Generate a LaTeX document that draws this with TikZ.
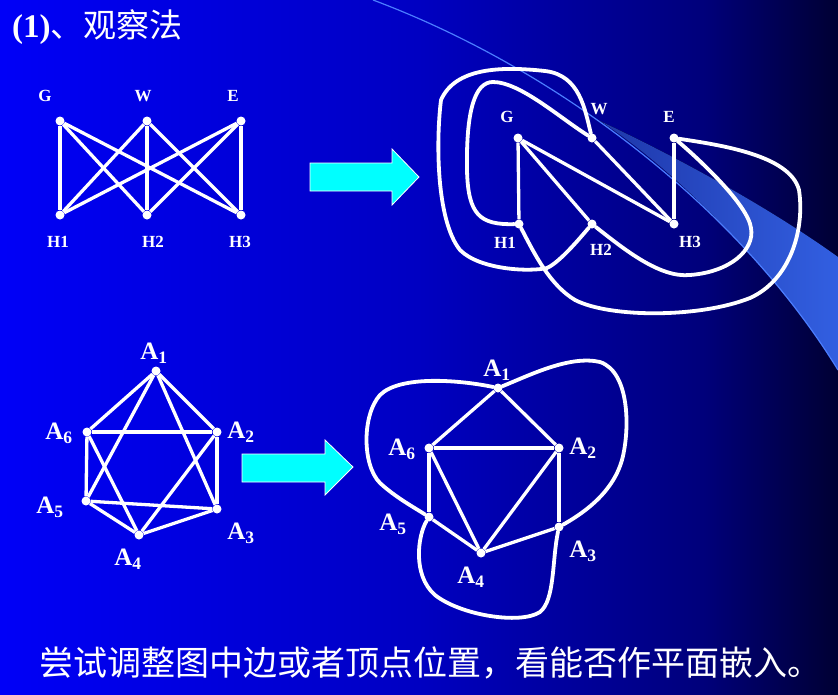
\documentclass[tikz,border=0pt]{standalone}
\usepackage{fontspec}
\setmainfont{Liberation Serif}
\newfontfamily\cjk{Noto Sans CJK SC}
\usepackage{tikz}
\usetikzlibrary{arrows.meta}
\definecolor{bandlight}{RGB}{50,95,225}
\definecolor{banddark}{RGB}{30,55,170}
\definecolor{bandline}{RGB}{75,125,255}
\definecolor{arrcyan}{RGB}{0,255,255}
\pgfdeclarehorizontalshading{slidebg}{100bp}{rgb(0bp)=(0,0,0.97); rgb(25bp)=(0,0,0.97); rgb(50bp)=(0,0,0.76); rgb(67bp)=(0,0,0.48); rgb(75bp)=(0,0,0.2); rgb(100bp)=(0,0,0.2)}

\begin{document}
\begin{tikzpicture}[x=1pt, y=-1pt,
  vtx/.style={circle, fill=white, inner sep=0pt, minimum size=9pt},
  lbl/.style={text=white, inner sep=0pt, font=\fontsize{17}{20}\selectfont\bfseries},
  alab/.style={text=white, inner sep=0pt, font=\fontsize{25}{28}\selectfont\bfseries},
  gedge/.style={white, line width=3.3pt},
  gloop/.style={white, line width=3.8pt, line cap=round},
  bigarr/.style={fill=arrcyan, draw=white, line width=0.8pt}
]
\useasboundingbox (0,0) rectangle (838,694);
\fill[shading=slidebg] (0,0) rectangle (838,694);
\fill[left color=banddark, right color=bandlight] (600,121) .. controls (690,163) and (780,215) .. (838,257)
  -- (838,370) .. controls (790,290) and (690,180) .. (600,121) -- cycle;
\draw[bandline, line width=1.2pt] (373,0) .. controls (560,70) and (740,210) .. (838,370);

\node[text=white, anchor=west, inner sep=0pt] (title) at (12,27)
  {\fontsize{33}{36}\selectfont\textbf{(1)}\cjk 、观察法};

% K3,3
\node[vtx] (g1) at (60,121) {};
\node[vtx] (w1) at (147,121) {};
\node[vtx] (e1) at (241,121) {};
\node[vtx] (ha1) at (60,215) {};
\node[vtx] (hb1) at (147,215) {};
\node[vtx] (hc1) at (241,215) {};
\node[lbl] at (45,96) {G};
\node[lbl] at (143,96) {W};
\node[lbl] at (233,96) {E};
\node[lbl] at (58,242) {H1};
\node[lbl] at (153,242) {H2};
\node[lbl] at (240,242) {H3};
\foreach \u in {g1,w1,e1}
  \foreach \v in {ha1,hb1,hc1}
    \draw[gedge] (\u) -- (\v);

\draw[bigarr] (310,163) -- (392,163) -- (392,149) -- (419,177) -- (392,205) -- (392,191) -- (310,191) -- cycle;

\node[vtx] (g2) at (518,138) {};
\node[vtx] (w2) at (592,138) {};
\node[vtx] (e2) at (674,138) {};
\node[vtx] (ha2) at (519,224) {};
\node[vtx] (hb2) at (592,224) {};
\node[vtx] (hc2) at (674,224) {};
\node[lbl] at (507,117) {G};
\node[lbl] at (599,109) {W};
\node[lbl] at (669,117) {E};
\node[lbl] at (505,243) {H1};
\node[lbl] at (601,250) {H2};
\node[lbl] at (690,242) {H3};
\draw[gedge] (g2) -- (ha2);
\draw[gedge] (g2) -- (hb2);
\draw[gedge] (g2) -- (hc2);
\draw[gedge] (w2) -- (hc2);
\draw[gedge] (e2) -- (hc2);
\draw[gloop] (ha2) .. controls (480,225) and (468,215) .. (467,170)
  .. controls (466,110) and (475,82) .. (493,82) .. controls (520,82) and (560,118) .. (w2);
\draw[gloop] (w2) .. controls (585,110) and (580,75) .. (545,71)
  .. controls (500,66) and (455,68) .. (441,100) .. controls (436,140) and (436,220) .. (460,250)
  .. controls (480,270) and (530,272) .. (547,268) .. controls (560,262) and (580,238) .. (hb2);
\draw[gloop] (hb2) .. controls (625,250) and (660,278) .. (690,275)
  .. controls (730,272) and (755,250) .. (751,228) .. controls (748,205) and (700,160) .. (e2);
\draw[gloop] (e2) .. controls (720,145) and (790,155) .. (799,190)
  .. controls (805,230) and (790,280) .. (750,298) .. controls (700,318) and (610,318) .. (575,300)
  .. controls (550,285) and (535,255) .. (ha2);

% K6 part
\node[vtx] (a1) at (156,371) {};
\node[vtx] (a2) at (217,432) {};
\node[vtx] (a3) at (217,509) {};
\node[vtx] (a4) at (139,535) {};
\node[vtx] (a5) at (86,501) {};
\node[vtx] (a6) at (87,432) {};
\node[alab] at (154,353) {A\textsubscript{1}};
\node[alab] at (241,432) {A\textsubscript{2}};
\node[alab] at (241,533) {A\textsubscript{3}};
\node[alab] at (128,559) {A\textsubscript{4}};
\node[alab] at (50,507) {A\textsubscript{5}};
\node[alab] at (59,433) {A\textsubscript{6}};
\foreach \u/\v in {a1/a6,a1/a2,a1/a5,a1/a3,a6/a2,a6/a5,a6/a4,a2/a4,a2/a3,a5/a3,a5/a4,a4/a3}
  \draw[gedge] (\u) -- (\v);

\draw[bigarr] (242,454) -- (325,454) -- (325,440) -- (353,467) -- (325,495) -- (325,482) -- (242,482) -- cycle;

\node[vtx] (b1) at (498,388) {};
\node[vtx] (b2) at (559,448) {};
\node[vtx] (b3) at (559,527) {};
\node[vtx] (b4) at (481,553) {};
\node[vtx] (b5) at (429,517) {};
\node[vtx] (b6) at (429,448) {};
\node[alab] at (497,370) {A\textsubscript{1}};
\node[alab] at (583,448) {A\textsubscript{2}};
\node[alab] at (583,551) {A\textsubscript{3}};
\node[alab] at (471,577) {A\textsubscript{4}};
\node[alab] at (393,524) {A\textsubscript{5}};
\node[alab] at (402,449) {A\textsubscript{6}};
\foreach \u/\v in {b1/b6,b1/b2,b6/b2,b6/b4,b2/b4,b6/b5,b2/b3,b5/b4,b4/b3}
  \draw[gedge] (\u) -- (\v);
\draw[gloop] (b1) .. controls (460,380) and (400,375) .. (380,395)
  .. controls (362,415) and (362,465) .. (380,483) .. controls (395,497) and (415,508) .. (b5);
\draw[gloop] (b1) .. controls (530,375) and (570,355) .. (600,362)
  .. controls (630,372) and (630,430) .. (622,460) .. controls (612,495) and (580,515) .. (b3);
\draw[gloop] (b5) .. controls (418,535) and (412,575) .. (435,595)
  .. controls (460,615) and (520,625) .. (540,612) .. controls (555,600) and (552,560) .. (b3);

\node[text=white, inner sep=0pt] (note) at (430,663)
  {\cjk\fontsize{34}{38}\selectfont 尝试调整图中边或者顶点位置，看能否作平面嵌入。};
\end{tikzpicture}
\end{document}
